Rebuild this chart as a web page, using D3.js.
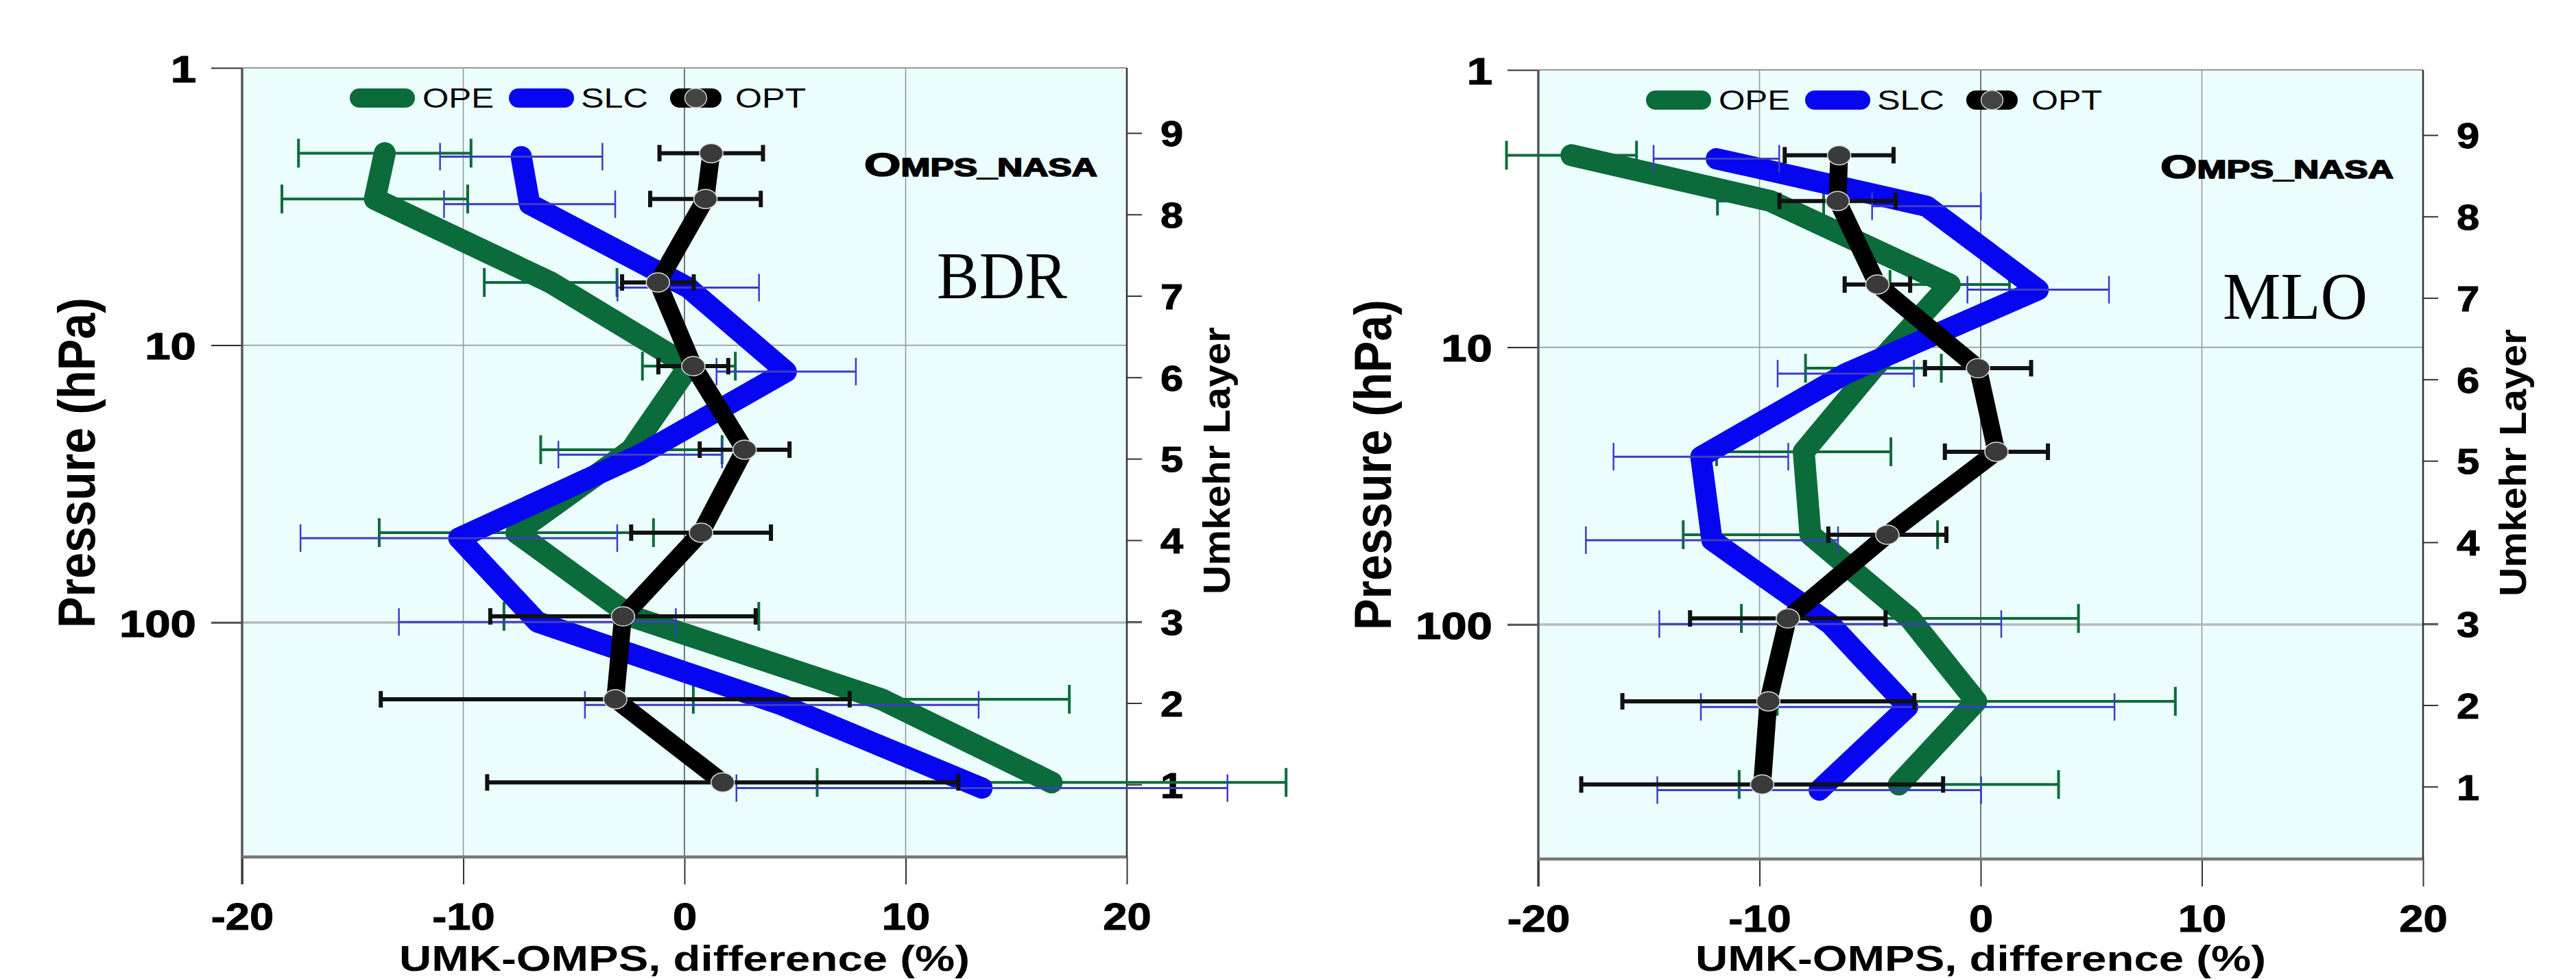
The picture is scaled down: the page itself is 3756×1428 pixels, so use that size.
<!DOCTYPE html>
<html><head><meta charset="utf-8">
<script src="https://cdn.jsdelivr.net/npm/d3@7"></script>
<style>body{margin:0;background:#fff}</style>
</head><body>
<svg id="chart" width="3756" height="1428" xmlns="http://www.w3.org/2000/svg"></svg>
<script>
// ---------- data ----------
const layers = [1, 2, 3, 4, 5, 6, 7, 8, 9];
const pressureOPE = [377, 189, 95, 47.4, 23.8, 11.9, 5.94, 2.97, 2.03];
const pressureSLC = [395, 198, 99.5, 49.6, 24.8, 12.45, 6.2, 3.1, 2.09];
const pressureOPT = [377, 189, 95, 47.4, 23.8, 11.9, 5.94, 2.97, 2.03];

const bdrOPE    = [16.6, 8.9, -2.4, -7.6, -2.4, 0.2, -6.05, -14.0, -13.55];
const bdrOPEerr = [10.6, 8.5, 5.76, 6.2, 4.1, 2.1, 3.0, 4.2, 3.9];
const bdrSLC    = [13.45, 4.4, -6.65, -10.2, -2.0, 4.6, 0.17, -7.0, -7.38];
const bdrSLCerr = [11.1, 8.9, 6.26, 7.16, 3.7, 3.15, 3.2, 3.87, 3.67];
const bdrOPT    = [1.73, -3.13, -2.78, 0.75, 2.72, 0.4, -1.2, 0.95, 1.21];
const bdrOPTerr = [10.65, 10.6, 6.0, 3.16, 2.03, 1.58, 1.62, 2.5, 2.34];

const mloOPE    = [-3.7, -0.2, -3.2, -7.7, -8.0, -4.85, -1.4, -9.5, -18.5];
const mloOPEerr = [7.22, 9.0, 7.62, 5.75, 3.94, 3.07, 2.7, 2.4, 2.94];
const mloSLC    = [-7.3, -3.3, -6.8, -12.15, -12.65, -6.1, 2.6, -2.45, -11.95];
const mloSLCerr = [7.32, 9.35, 7.73, 5.7, 3.95, 3.08, 3.2, 2.46, 2.84];
const mloOPT    = [-9.88, -9.6, -8.72, -4.22, 0.71, -0.12, -4.67, -6.47, -6.4];
const mloOPTerr = [8.18, 6.6, 4.42, 2.67, 2.33, 2.4, 1.48, 2.63, 2.46];

const seriesNames = ["OPE", "SLC", "OPT"];
const stationNames = ["BDR", "MLO"];
const satelliteLabel = ["O", "MPS_NASA"];
const xTicks = [-20, -10, 0, 10, 20];
const xMinorTicks = [-15, -5, 5, 15];
const pTicks = [1, 10, 100];
const pMinorTicks = [2,3,4,5,6,7,8,9,20,30,40,50,60,70,80,90,200,300,400,500,600];
const pDomain = [1, 700];
const xDomain = [-20, 20];
const umkehrAxisPressure = [383.6, 1.717]; // pressure at Umkehr layer 1 and 9
const xTitle = "UMK-OMPS, difference (%)";
const yTitle = "Pressure (hPa)";
const y2Title = "Umkehr Layer";

// ---------- layout ----------
const W = 1290, H = 1151;
const panels = [
  {left: 353, top: 99, station: stationNames[0], stx: 1013, sty: 336, stw: 190,
   OPE: bdrOPE, OPEerr: bdrOPEerr, SLC: bdrSLC, SLCerr: bdrSLCerr, OPT: bdrOPT, OPTerr: bdrOPTerr},
  {left: 2243, top: 102, station: stationNames[1], stx: 998, sty: 363, stw: 211,
   OPE: mloOPE, OPEerr: mloOPEerr, SLC: mloSLC, SLCerr: mloSLCerr, OPT: mloOPT, OPTerr: mloOPTerr}
];
const style = {
  OPE: {line: "#0b6b3a", err: "#0d6b3b", lw: 32, ew: 4, cap: 42, cw: 4},
  SLC: {line: "#0606f0", err: "#3b3dc4", lw: 31, ew: 3, cap: 40, cw: 2.5},
  OPT: {line: "#000000", err: "#111111", lw: 26, ew: 6, cap: 24, cw: 6}
};
const SANS = "'Liberation Sans', Arial, Helvetica, sans-serif";
const SERIF = "'Liberation Serif', 'Times New Roman', serif";
const fmt = d => String(d);

const svg = d3.select("#chart");

function stretch(sel, k) {
  sel.each(function() {
    const n = d3.select(this);
    n.attr("lengthAdjust", "spacingAndGlyphs").attr("textLength", this.getComputedTextLength() * k);
  });
}

panels.forEach(P => {
  const g = svg.append("g");
  const x = d3.scaleLinear().domain(xDomain).range([P.left, P.left + W]);
  const y = d3.scaleLog().domain(pDomain).range([P.top, P.top + H]);
  const yL = d3.scaleLinear().domain([1, 9]).range([y(umkehrAxisPressure[0]), y(umkehrAxisPressure[1])]);
  const bottom = P.top + H;

  // background
  g.append("rect").attr("x", P.left).attr("y", P.top).attr("width", W).attr("height", H).attr("fill", "#ebfdfd");

  // grid lines
  g.selectAll(".vg").data([-10, 0, 10]).join("line")
    .attr("x1", d => x(d)).attr("x2", d => x(d)).attr("y1", P.top).attr("y2", bottom)
    .attr("stroke", d => d === 0 ? "#555" : "#9a9a9a").attr("stroke-width", 1.6);
  g.append("line").attr("x1", P.left - 45).attr("x2", P.left + W).attr("y1", y(10)).attr("y2", y(10))
    .attr("stroke", "#9a9a9a").attr("stroke-width", 1.8);
  g.append("line").attr("x1", P.left - 45).attr("x2", P.left + W + 22).attr("y1", y(100)).attr("y2", y(100))
    .attr("stroke", "#b9b9b9").attr("stroke-width", 3.5);
  g.append("line").attr("x1", P.left).attr("x2", P.left + W).attr("y1", P.top).attr("y2", P.top)
    .attr("stroke", "#999").attr("stroke-width", 2);

  // left axis (pressure)
  const ax = g.append("g").attr("transform", `translate(${P.left},0)`);
  ax.call(d3.axisLeft(y).tickValues(pMinorTicks).tickSize(23).tickFormat(""));
  ax.call(d3.axisLeft(y).tickValues(pTicks).tickSize(45).tickPadding(22).tickFormat(fmt));
  ax.selectAll(".domain").remove();
  ax.selectAll("line").attr("stroke", "#333").attr("stroke-width", 2);
  ax.selectAll("text").attr("font-family", SANS).attr("font-weight", "bold").attr("font-size", 56)
    .attr("fill", "#000").attr("stroke", "#000").attr("stroke-width", 1.2).attr("dy", "0.36em");
  stretch(ax.selectAll("text"), 1.2);
  g.append("line").attr("x1", P.left).attr("x2", P.left).attr("y1", P.top).attr("y2", bottom + 40)
    .attr("stroke", "#555").attr("stroke-width", 3.5);

  // bottom axis
  const bx = g.append("g").attr("transform", `translate(0,${bottom})`);
  bx.call(d3.axisBottom(x).tickValues(xMinorTicks).tickSize(22).tickFormat(""));
  bx.call(d3.axisBottom(x).tickValues(xTicks).tickSize(40).tickPadding(27).tickFormat(fmt));
  bx.selectAll(".domain").remove();
  bx.selectAll("line").attr("stroke", "#333").attr("stroke-width", 2);
  bx.selectAll("text").attr("font-family", SANS).attr("font-weight", "bold").attr("font-size", 55)
    .attr("fill", "#000").attr("stroke", "#000").attr("stroke-width", 1);
  stretch(bx.selectAll("text"), 1.15);
  g.append("line").attr("x1", P.left).attr("x2", P.left + W).attr("y1", bottom).attr("y2", bottom)
    .attr("stroke", "#777").attr("stroke-width", 4.5);

  // right axis (Umkehr layer)
  const rx = g.append("g").attr("transform", `translate(${P.left + W},0)`);
  rx.call(d3.axisRight(yL).tickValues(layers).tickSize(22).tickPadding(27).tickFormat(fmt));
  rx.selectAll(".domain").remove();
  rx.selectAll("line").attr("stroke", "#333").attr("stroke-width", 2);
  rx.selectAll("text").attr("font-family", SANS).attr("font-weight", "bold").attr("font-size", 52)
    .attr("fill", "#000").attr("stroke", "#000").attr("stroke-width", 1).attr("dy", "0.36em");
  stretch(rx.selectAll("text"), 1.15);
  g.append("line").attr("x1", P.left + W).attr("x2", P.left + W).attr("y1", P.top).attr("y2", bottom)
    .attr("stroke", "#333").attr("stroke-width", 2.5);

  // axis titles
  g.append("text").attr("transform", `translate(${P.left - 215},${P.top + 576}) rotate(-90)`)
    .attr("text-anchor", "middle").attr("font-family", SANS).attr("font-weight", "bold")
    .attr("font-size", 76).attr("textLength", 482).attr("lengthAdjust", "spacingAndGlyphs").text(yTitle);
  g.append("text").attr("transform", `translate(${P.left + W + 150},${P.top + 573}) rotate(-90)`)
    .attr("text-anchor", "middle").attr("font-family", SANS).attr("font-weight", "bold")
    .attr("font-size", 56).attr("textLength", 390).attr("lengthAdjust", "spacingAndGlyphs").text(y2Title);
  g.append("text").attr("x", P.left + W / 2).attr("y", 1416).attr("text-anchor", "middle")
    .attr("font-family", SANS).attr("font-weight", "bold").attr("font-size", 52)
    .attr("textLength", 832).attr("lengthAdjust", "spacingAndGlyphs").text(xTitle);

  // series
  const line = d3.line().x(d => x(d.v)).y(d => y(d.p));
  const build = (vals, errs, pres) => layers.map((L, i) => ({L, v: vals[i], e: errs[i], p: pres[i]}));
  const data = {
    OPE: build(P.OPE, P.OPEerr, pressureOPE),
    SLC: build(P.SLC, P.SLCerr, pressureSLC),
    OPT: build(P.OPT, P.OPTerr, pressureOPT)
  };
  seriesNames.forEach(name => {
    const s = style[name];
    const d = data[name];
    g.append("path").datum(d).attr("d", line).attr("fill", "none").attr("stroke", s.line)
      .attr("stroke-width", s.lw).attr("stroke-linejoin", "round").attr("stroke-linecap", "round");
    const eg = g.append("g");
    eg.selectAll(".bar").data(d).join("line")
      .attr("x1", v => x(v.v - v.e)).attr("x2", v => x(v.v + v.e)).attr("y1", v => y(v.p)).attr("y2", v => y(v.p))
      .attr("stroke", s.err).attr("stroke-width", s.ew);
    eg.selectAll(".capl").data(d).join("line")
      .attr("x1", v => x(v.v - v.e)).attr("x2", v => x(v.v - v.e))
      .attr("y1", v => y(v.p) - s.cap / 2).attr("y2", v => y(v.p) + s.cap / 2)
      .attr("stroke", s.err).attr("stroke-width", s.cw);
    eg.selectAll(".capr").data(d).join("line")
      .attr("x1", v => x(v.v + v.e)).attr("x2", v => x(v.v + v.e))
      .attr("y1", v => y(v.p) - s.cap / 2).attr("y2", v => y(v.p) + s.cap / 2)
      .attr("stroke", s.err).attr("stroke-width", s.cw);
    if (name === "OPT") {
      g.selectAll(".dot").data(d).join("ellipse")
        .attr("cx", v => x(v.v)).attr("cy", v => y(v.p)).attr("rx", 17).attr("ry", 14)
        .attr("fill", "#3a3a3a").attr("stroke", "#dcdcdc").attr("stroke-width", 1.5);
    }
  });

  // legend
  const lg = g.append("g").attr("transform", `translate(${P.left},${P.top})`);
  const legendItems = [
    {name: "OPE", sx: 157, sw: 95, tx: 263, tw: 104},
    {name: "SLC", sx: 389, sw: 95, tx: 494, tw: 98},
    {name: "OPT", sx: 624, sw: 75, tx: 719, tw: 103}
  ];
  legendItems.forEach(it => {
    lg.append("rect").attr("x", it.sx).attr("y", 30).attr("width", it.sw).attr("height", 28).attr("rx", 14)
      .attr("fill", style[it.name].line);
    if (it.name === "OPT") {
      lg.append("ellipse").attr("cx", it.sx + it.sw / 2).attr("cy", 44).attr("rx", 16).attr("ry", 14)
        .attr("fill", "#444").attr("stroke", "#ccc").attr("stroke-width", 1.5);
    }
    lg.append("text").attr("x", it.tx).attr("y", 58).attr("font-family", SANS).attr("font-size", 40)
      .attr("textLength", it.tw).attr("lengthAdjust", "spacingAndGlyphs").text(it.name);
  });

  // satellite label
  const sl = g.append("text").attr("x", P.left + 907).attr("y", P.top + 158)
    .attr("font-family", SANS).attr("font-weight", "bold").attr("stroke", "#000").attr("stroke-width", 1.6)
    .attr("textLength", 340).attr("lengthAdjust", "spacingAndGlyphs");
  sl.append("tspan").attr("font-size", 48).text(satelliteLabel[0]);
  sl.append("tspan").attr("font-size", 36).text(satelliteLabel[1]);

  // station label
  g.append("text").attr("x", P.left + P.stx).attr("y", P.top + P.sty).attr("font-family", SERIF)
    .attr("font-size", 98).attr("textLength", P.stw)
    .attr("lengthAdjust", "spacingAndGlyphs").text(P.station);
});
</script>
</body></html>
